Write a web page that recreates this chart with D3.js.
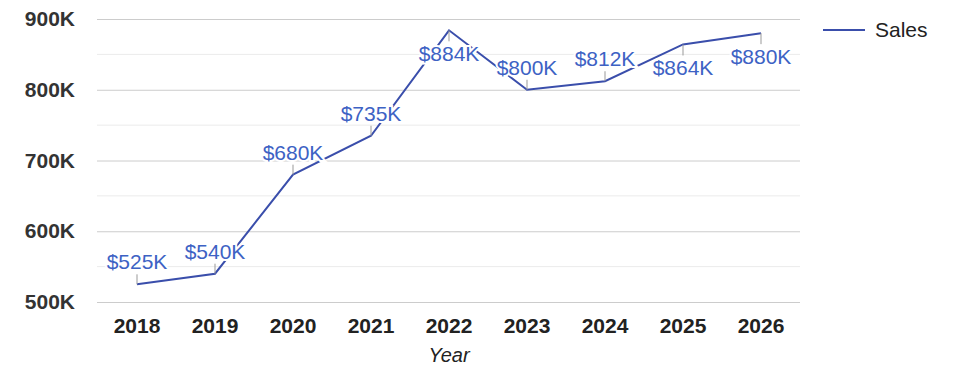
<!DOCTYPE html>
<html>
<head>
<meta charset="utf-8">
<script src="https://cdn.jsdelivr.net/npm/d3@7"></script>
<style>
  body { margin: 0; background: #fff; }
  text { font-family: Arial, "Liberation Sans", sans-serif; }
</style>
</head>
<body>
<div id="chart"></div>
<script>
// data
const years = ['2018', '2019', '2020', '2021', '2022', '2023', '2024', '2025', '2026']
const sales = [525000, 540000, 680000, 735000, 884000, 800000, 812000, 864000, 880000]
const yTicks = [500000, 600000, 700000, 800000, 900000]
const yMinor = [550000, 650000, 750000, 850000]
const seriesName = 'Sales'

function draw(){
    const dimension = { width: 975, height: 378 }
    const plot = { left: 98, right: 800, top: 19, bottom: 302 }

    const svg = d3.select('#chart')
        .append('svg')
        .attr('width', dimension.width)
        .attr('height', dimension.height)

    const xScale = d3.scaleBand()
        .domain(years)
        .range([plot.left, plot.right])

    const yScale = d3.scaleLinear()
        .domain([500000, 900000])
        .range([plot.bottom, plot.top])

    const fmt = v => (v / 1000) + 'K'
    const cx = d => xScale(d) + xScale.bandwidth() / 2

    // gridlines
    svg.append('g').selectAll('line')
        .data(yMinor)
        .join('line')
        .attr('x1', plot.left - 1).attr('x2', plot.right)
        .attr('y1', d => yScale(d)).attr('y2', d => yScale(d))
        .attr('stroke', '#ebebeb')

    const yAxis = d3.axisLeft(yScale)
        .tickValues(yTicks)
        .tickFormat(fmt)
        .tickSize(-(plot.right - plot.left + 1))
        .tickPadding(22)

    svg.append('g')
        .attr('transform', `translate(${plot.left - 1},0)`)
        .call(yAxis)
        .call(g => g.select('.domain').remove())
        .call(g => g.selectAll('line').attr('stroke', '#cccccc'))
        .call(g => g.selectAll('text')
            .attr('fill', '#333')
            .style('font-size', '21px')
            .style('font-weight', 'bold'))

    const xAxis = d3.axisBottom(xScale).tickSize(0).tickPadding(16)
    svg.append('g')
        .attr('transform', `translate(0,${plot.bottom})`)
        .call(xAxis)
        .call(g => g.select('.domain').remove())
        .call(g => g.selectAll('text')
            .attr('fill', '#222')
            .style('font-size', '21px')
            .style('font-weight', 'bold'))

    svg.append('text')
        .attr('x', (plot.left + plot.right) / 2)
        .attr('y', 362)
        .attr('text-anchor', 'middle')
        .style('font-size', '20px')
        .style('font-style', 'italic')
        .attr('fill', '#222')
        .text('Year')

    // line
    const points = years.map((y, i) => ({ year: y, value: sales[i] }))
    const line = d3.line()
        .x(d => cx(d.year))
        .y(d => yScale(d.value))

    svg.append('path')
        .datum(points)
        .attr('d', line)
        .attr('fill', 'none')
        .attr('stroke', '#3a4eab')
        .attr('stroke-width', 2)

    // annotations: above, or below when close to the top
    const below = d => yScale(d.value) < yScale(850000)
    const ann = svg.append('g')

    ann.selectAll('line')
        .data(points)
        .join('line')
        .attr('x1', d => cx(d.year)).attr('x2', d => cx(d.year))
        .attr('y1', d => yScale(d.value))
        .attr('y2', d => yScale(d.value) + (below(d) ? 11 : -10))
        .attr('stroke', '#999')
        .attr('stroke-width', 1)

    ann.selectAll('text')
        .data(points)
        .join('text')
        .attr('x', d => cx(d.year))
        .attr('y', d => yScale(d.value) + (below(d) ? 31 : -15))
        .attr('text-anchor', 'middle')
        .style('font-size', '21px')
        .attr('fill', '#3d62c4')
        .attr('stroke', '#fff')
        .attr('stroke-width', 4)
        .attr('paint-order', 'stroke')
        .text(d => '$' + fmt(d.value))

    // legend
    const legend = svg.append('g').attr('transform', 'translate(823,30)')
    legend.append('line')
        .attr('x1', 0).attr('x2', 42)
        .attr('stroke', '#3a4eab')
        .attr('stroke-width', 2)
    legend.append('text')
        .attr('x', 52)
        .attr('y', 7)
        .style('font-size', '21px')
        .attr('fill', '#222')
        .text(seriesName)
}

draw()
</script>
</body>
</html>
